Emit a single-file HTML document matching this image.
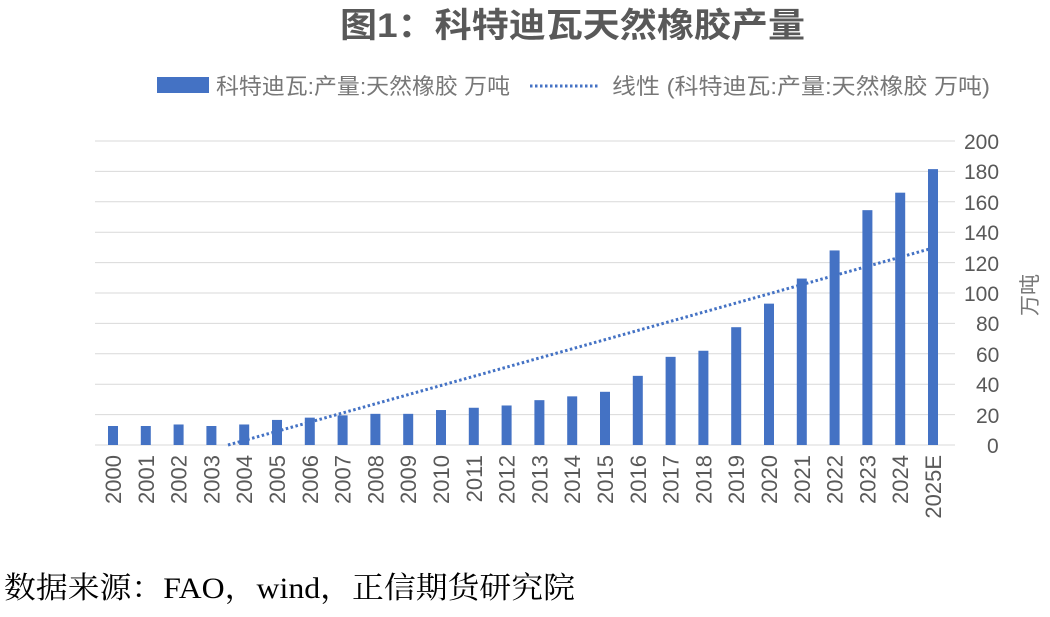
<!DOCTYPE html>
<html><head><meta charset="utf-8"><style>
body{margin:0;background:#fff;width:1050px;height:612px;overflow:hidden}
</style></head><body>
<svg width="1050" height="612" xmlns="http://www.w3.org/2000/svg" font-family="Liberation Sans, Noto Sans CJK SC, sans-serif">
<text x="340" y="37" font-size="34" font-weight="bold" fill="#595959" textLength="465" lengthAdjust="spacingAndGlyphs">图1：科特迪瓦天然橡胶产量</text>
<rect x="157" y="77" width="52" height="16" fill="#4472C4"/>
<text x="216" y="94" font-size="22" fill="#777" textLength="294" lengthAdjust="spacingAndGlyphs">科特迪瓦:产量:天然橡胶 万吨</text>
<line x1="530" y1="86" x2="600" y2="86" stroke="#4472C4" stroke-width="3" stroke-dasharray="2.5,2.5"/>
<text x="612" y="94" font-size="22" fill="#777" textLength="378" lengthAdjust="spacingAndGlyphs">线性 (科特迪瓦:产量:天然橡胶 万吨)</text>
<g stroke="#d9d9d9" stroke-width="1">
<line x1="95" x2="955" y1="141" y2="141"/><line x1="95" x2="955" y1="171.4" y2="171.4"/>
<line x1="95" x2="955" y1="201.8" y2="201.8"/><line x1="95" x2="955" y1="232.2" y2="232.2"/>
<line x1="95" x2="955" y1="262.6" y2="262.6"/><line x1="95" x2="955" y1="293" y2="293"/>
<line x1="95" x2="955" y1="323.4" y2="323.4"/><line x1="95" x2="955" y1="353.8" y2="353.8"/>
<line x1="95" x2="955" y1="384.2" y2="384.2"/><line x1="95" x2="955" y1="414.6" y2="414.6"/>
<line x1="95" x2="955" y1="445" y2="445"/>
</g>
<g font-size="21" fill="#595959">
<text x="964" y="149">200</text><text x="964" y="179">180</text><text x="964" y="210">160</text>
<text x="964" y="240">140</text><text x="964" y="271">120</text><text x="964" y="301">100</text>
<text x="976" y="331">80</text><text x="976" y="362">60</text><text x="976" y="392">40</text>
<text x="976" y="423">20</text><text x="987" y="453">0</text>
</g>
<text transform="translate(1037,295) rotate(-90)" text-anchor="middle" font-size="21" fill="#777">万吨</text>
<g fill="#4472C4" id="bars"></g>
<line x1="228" y1="445" x2="933" y2="248" stroke="#4472C4" stroke-width="3" stroke-dasharray="2.5,2.5"/>
<g id="xl" font-size="22" fill="#595959"></g>
<text x="4" y="598" font-family="Liberation Serif, Noto Serif CJK SC, serif" font-size="30" fill="#000" textLength="571" lengthAdjust="spacingAndGlyphs">数据来源：FAO，wind，正信期货研究院</text>
<script>
var v=[12.5,12.5,13.5,12.5,13.5,16.5,18,19.5,20.5,20.5,23,24.5,26,29.5,32,35,45.5,58,62,77.5,93,109.5,128,154.5,166,181.5];
var b=document.getElementById('bars'),xl=document.getElementById('xl'),ns='http://www.w3.org/2000/svg';
v.forEach(function(d,i){var c=113+i*32.8,h=d*1.52;
var r=document.createElementNS(ns,'rect');r.setAttribute('x',c-5);r.setAttribute('y',445-h);r.setAttribute('width',10);r.setAttribute('height',h);b.appendChild(r);
var t=document.createElementNS(ns,'text');t.setAttribute('transform','translate('+(c+8)+',455) rotate(-90)');t.setAttribute('text-anchor','end');t.textContent=i==25?'2025E':(2000+i);xl.appendChild(t);});
</script>
</svg>
</body></html>
